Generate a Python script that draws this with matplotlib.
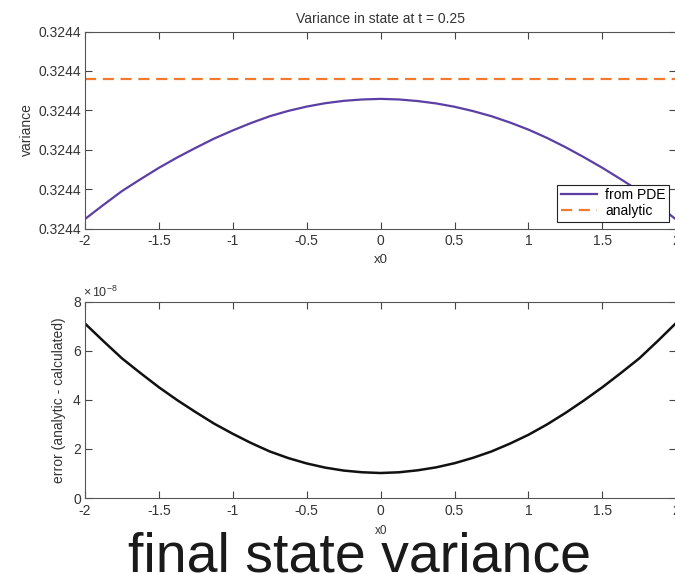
import matplotlib.pyplot as plt
from matplotlib.ticker import FormatStrFormatter

plt.rcParams['font.family'] = ['Liberation Sans', 'DejaVu Sans']
plt.rcParams['mathtext.fontset'] = 'custom'
plt.rcParams['mathtext.rm'] = 'Liberation Sans'
plt.rcParams['mathtext.it'] = 'Liberation Sans'

x0 = [-2.0, -1.875, -1.75, -1.625, -1.5, -1.375, -1.25, -1.125, -1.0,
      -0.875, -0.75, -0.625, -0.5, -0.375, -0.25, -0.125, 0.0,
      0.125, 0.25, 0.375, 0.5, 0.625, 0.75, 0.875, 1.0,
      1.125, 1.25, 1.375, 1.5, 1.625, 1.75, 1.875, 2.0]
err = [7.12, 6.40, 5.70, 5.10, 4.52, 3.99, 3.50, 3.03, 2.62,
       2.24, 1.90, 1.63, 1.41, 1.24, 1.12, 1.05, 1.02,
       1.05, 1.13, 1.25, 1.42, 1.64, 1.90, 2.22, 2.58,
       3.00, 3.47, 3.98, 4.52, 5.10, 5.70, 6.41, 7.15]  # x 1e-8
analytic = 0.324439976
var_ticks = [0.3244399, 0.32443992, 0.32443994, 0.32443996, 0.32443998, 0.324440]
x_ticks = [-2, -1.5, -1, -0.5, 0, 0.5, 1, 1.5, 2]
x_labels = ['-2', '-1.5', '-1', '-0.5', '0', '0.5', '1', '1.5', '2']
err_ticks = [0, 2, 4, 6, 8]

pde = [analytic - e * 1e-8 for e in err]

txt = '#333333'
fig = plt.figure(figsize=(6.75, 5.74), dpi=100)
ax1 = fig.add_axes([0.1259, 0.6019, 0.876, 0.3432])
ax2 = fig.add_axes([0.1259, 0.1324, 0.876, 0.3415])

ax1.plot(x0, pde, color='#5b3fa5', lw=1.6, label='from PDE')
ax1.plot([x0[0], x0[-1]], [analytic, analytic], color='#f07a30', lw=1.6,
         ls=(0, (5, 3)), label='analytic')
ax1.set_ylim(var_ticks[0], var_ticks[-1])
ax1.set_yticks(var_ticks)
ax1.yaxis.set_major_formatter(FormatStrFormatter('%.4f'))
ax1.set_title('Variance in state at t = 0.25', fontsize=10, color=txt, pad=6)
ax1.set_ylabel('variance', fontsize=10, color=txt, labelpad=3)
ax1.set_xlabel('x0', fontsize=9.5, color=txt, labelpad=4)
leg = ax1.legend(loc='lower right', fontsize=10, fancybox=False, framealpha=1,
                 edgecolor='#222222', borderaxespad=0.5, handlelength=2.6,
                 borderpad=0.25, labelspacing=0.15, handletextpad=0.6)
leg.get_frame().set_linewidth(0.8)

ax2.plot(x0, err, color='#111111', lw=1.8)
ax2.set_ylim(0, 8)
ax2.set_yticks(err_ticks)
ax2.set_ylabel('error (analytic - calculated)', fontsize=10, color=txt, labelpad=5)
ax2.set_xlabel('x0', fontsize=8.5, color=txt, labelpad=5)
ax2.text(-0.004, 1.012, r'$\times\,10^{-8}$', transform=ax2.transAxes,
         fontsize=9, color=txt, ha='left', va='bottom')

for ax in (ax1, ax2):
    ax.set_xlim(-2, 2)
    ax.set_xticks(x_ticks)
    ax.set_xticklabels(x_labels)
    ax.tick_params(direction='in', length=5, width=0.8, top=True, right=True,
                   labelsize=10, colors='#444444', labelcolor=txt, pad=4)
    ax.tick_params(axis='y', pad=3)
    for s in ax.spines.values():
        s.set_color('#555555')
        s.set_linewidth(0.8)

fig.text(0.533, 0.005, 'final state variance', fontsize=40, color='#1a1a1a',
         ha='center', va='baseline')

fig.savefig('out.png', dpi=100)
